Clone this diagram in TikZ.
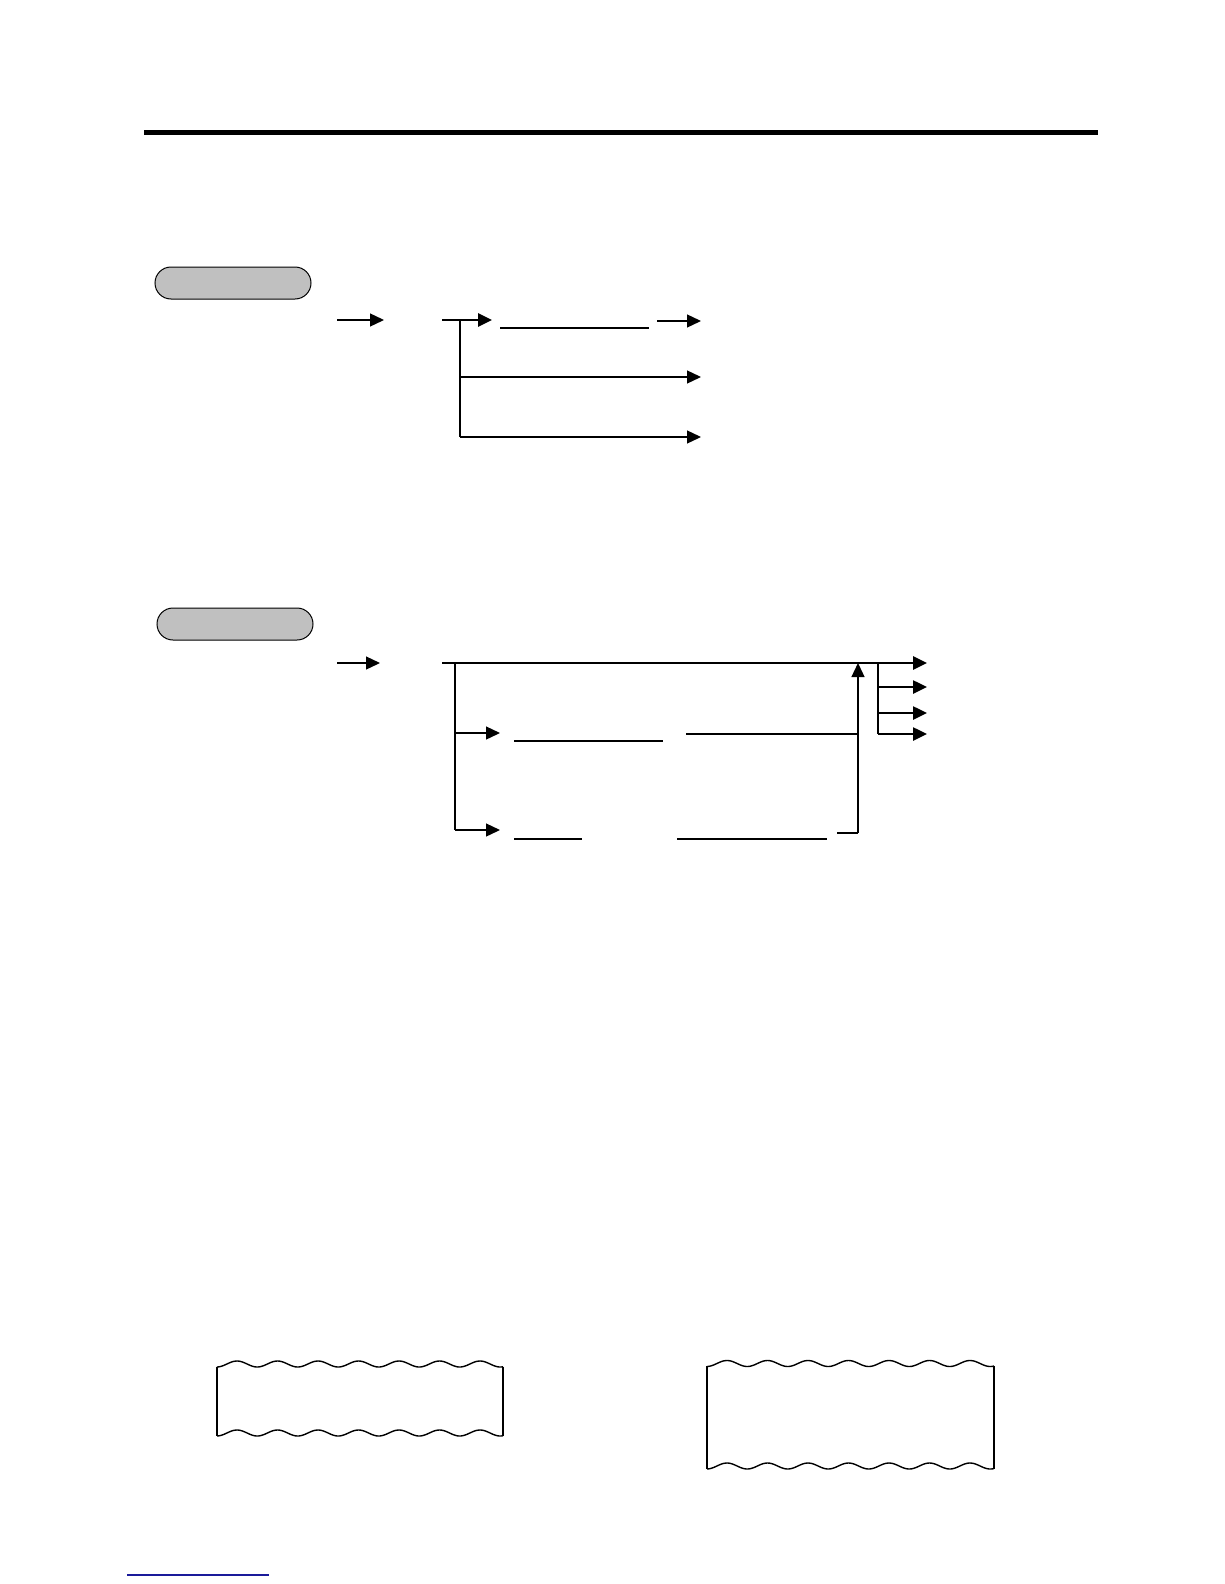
\documentclass[tikz,border=0pt]{standalone}
\usetikzlibrary{arrows.meta}
\definecolor{pillgray}{HTML}{C0C0C0}
\definecolor{linkblue}{HTML}{1A1A9A}
\begin{document}
\begin{tikzpicture}[x=1pt,y=-1pt,
  thin line/.style={line width=1.3pt},
  thick line/.style={line width=2.8pt},
  arr/.style={-{Triangle[length=14pt,width=13pt]}},
  pill/.style={draw=black,line width=1pt,fill=pillgray,minimum width=156pt,minimum height=32pt,rounded corners=16pt,inner sep=0pt},
  wave/.style={line width=1.4pt},
  edge/.style={line width=2pt}]
\useasboundingbox (0,0) rectangle (1224,1584);
% top rule
\coordinate (r1) at (144,133); \coordinate (r2) at (1098,133);
\draw[line width=5pt] (r1) -- (r2);
% ---------- section 1 ----------
\node[pill] (p1) at (233,283) {};
\coordinate (a1s) at (337,320); \coordinate (a1e) at (384,320);
\draw[thin line,arr] (a1s) -- (a1e);
\coordinate (b0) at (442,320); \coordinate (b1) at (460,320); \coordinate (b1e) at (492,320);
\coordinate (b2) at (460,377); \coordinate (b3) at (460,437);
\draw[thick line] (b1) -- (b3);
\draw[thick line,arr] (b0) -- (b1e);
\coordinate (u1s) at (500,328); \coordinate (u1e) at (649,328);
\draw[thin line] (u1s) -- (u1e);
\coordinate (c1s) at (657,321); \coordinate (c1e) at (701,321);
\draw[thin line,arr] (c1s) -- (c1e);
\coordinate (c2e) at (701,377); \coordinate (c3e) at (701,437);
\draw[thin line,arr] (b2) -- (c2e);
\draw[thin line,arr] (b3) -- (c3e);
% ---------- section 2 ----------
\node[pill] (p2) at (235,624) {};
\coordinate (a2s) at (337,663); \coordinate (a2e) at (380,663);
\draw[thin line,arr] (a2s) -- (a2e);
\coordinate (m0) at (442,663); \coordinate (m1) at (455,663); \coordinate (me) at (927,663);
\draw[thick line,arr] (m0) -- (me);
\coordinate (lb) at (455,830); \coordinate (lf) at (455,733);
\draw[thin line] (m1) -- (lb);
\coordinate (fe) at (500,733); \coordinate (ge) at (500,830);
\draw[thin line,arr] (lf) -- (fe);
\draw[thin line,arr] (lb) -- (ge);
\coordinate (uf1) at (514,741); \coordinate (uf2) at (663,741);
\draw[thin line] (uf1) -- (uf2);
\coordinate (lf2s) at (686,734); \coordinate (lf2e) at (858,734);
\draw[thin line] (lf2s) -- (lf2e);
\coordinate (ug1) at (514,839); \coordinate (ug2) at (582,839);
\coordinate (ug3) at (677,839); \coordinate (ug4) at (827,839);
\draw[line width=2.5pt] (ug1) -- (ug2);
\draw[line width=2.5pt] (ug3) -- (ug4);
\coordinate (sh1) at (837,833); \coordinate (sh2) at (858,833); \coordinate (up) at (858,663);
\draw[line width=2pt] (sh1) -- (sh2);
\draw[thin line,arr] (sh2) -- (up);
\coordinate (rv1) at (878,663); \coordinate (rv2) at (878,687); \coordinate (rv3) at (878,713); \coordinate (rv4) at (878,734);
\draw[line width=2.5pt] (rv1) -- (rv4);
\coordinate (re2) at (927,687); \coordinate (re3) at (927,713); \coordinate (re4) at (927,734);
\draw[line width=2.5pt,arr] (rv2) -- (re2);
\draw[line width=2.5pt,arr] (rv3) -- (re3);
\draw[line width=2.5pt,arr] (rv4) -- (re4);
% ---------- paper slips ----------
% left slip
\draw[wave] plot[domain=217:503,samples=220,smooth] (\x,{1364-3*cos((\x-237)*8.8889)});
\draw[wave] plot[domain=217:503,samples=220,smooth] (\x,{1433-3*cos((\x-237)*8.8889)});
\coordinate (ls1) at (217,1366.5); \coordinate (ls2) at (217,1435.5);
\coordinate (ls3) at (503,1366.5); \coordinate (ls4) at (503,1435.5);
\draw[edge] (ls1) -- (ls2);
\draw[edge] (ls3) -- (ls4);
% right slip
\draw[wave] plot[domain=707:994,samples=220,smooth] (\x,{1363.5-3*cos((\x-727)*8.8889)});
\draw[wave] plot[domain=707:994,samples=220,smooth] (\x,{1466-3*cos((\x-727)*8.8889)});
\coordinate (rs1) at (707,1366); \coordinate (rs2) at (707,1468.5);
\coordinate (rs3) at (994,1366); \coordinate (rs4) at (994,1468.5);
\draw[edge] (rs1) -- (rs2);
\draw[edge] (rs3) -- (rs4);
% bottom blue line
\coordinate (bl1) at (127,1575); \coordinate (bl2) at (269,1575);
\draw[linkblue,line width=1.2pt] (bl1) -- (bl2);
\end{tikzpicture}
\end{document}
